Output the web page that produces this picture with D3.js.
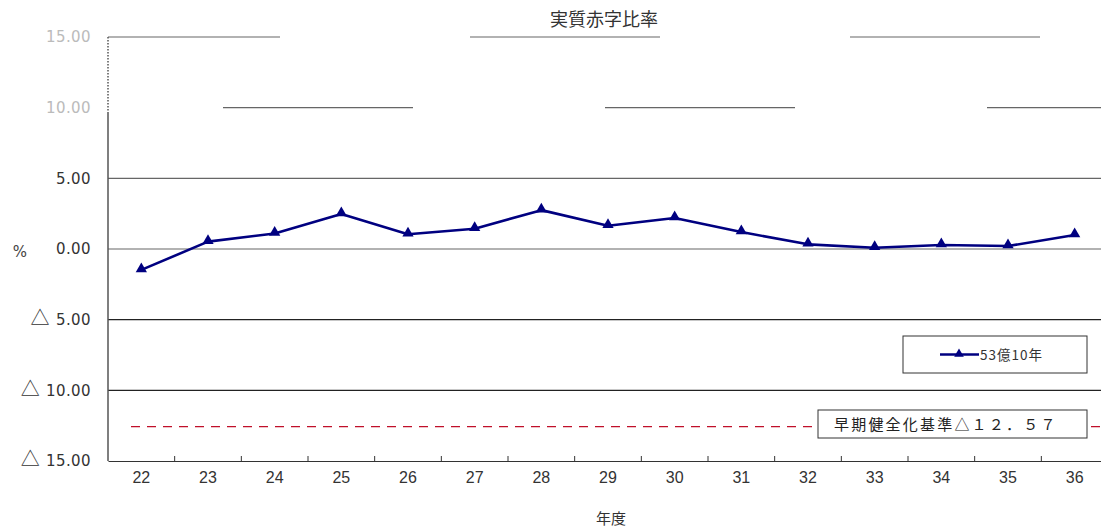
<!DOCTYPE html>
<html>
<head>
<meta charset="utf-8">
<script src="https://cdn.jsdelivr.net/npm/d3@7"></script>
<style>
  html, body { margin: 0; padding: 0; background: #fff; }
  svg { display: block; font-family: "Noto Sans CJK JP", "DejaVu Sans", sans-serif; }
</style>
</head>
<body>
<svg id="chart" width="1101" height="529"></svg>
<script>
// 年度 (fiscal years)
const years = ["22","23","24","25","26","27","28","29","30","31","32","33","34","35","36"];
// 実質赤字比率 (%) per year
const ratio = [-1.48, 0.52, 1.1, 2.47, 1.04, 1.43, 2.75, 1.65, 2.19, 1.2, 0.33, 0.09, 0.28, 0.21, 0.99];
// y-axis ticks
const yTicks = [15, 10, 5, 0, -5, -10, -15];
// early-warning threshold
const threshold = -12.57;
const seriesName = "53億10年";
const thresholdLabel = "早期健全化基準△１２．５７";

const CJK = "'Noto Sans CJK JP', sans-serif";
const LATIN = "'DejaVu Sans', sans-serif";

const svg = d3.select("#chart");
const plotLeft = 108, plotRight = 1108, plotTop = 37, plotBottom = 461;

const x = d3.scaleBand().domain(years).range([plotLeft, plotRight]);
const y = d3.scaleLinear().domain([-15, 15]).range([plotBottom, plotTop]);

const num = d3.format(".2f");

// title
svg.append("text")
  .attr("x", 604).attr("y", 26)
  .attr("text-anchor", "middle")
  .style("font-family", CJK)
  .attr("font-size", 18).attr("fill", "#333")
  .text("実質赤字比率");

// gridlines
const grid = svg.append("g");
yTicks.filter(v => v > -15).forEach(v => {
  const line = grid.append("line")
    .attr("x1", plotLeft).attr("x2", plotRight)
    .attr("y1", y(v)).attr("y2", y(v))
    .attr("stroke", v >= 0 ? "#666" : "#222")
    .attr("stroke-width", 1.2);
  if (v === 15) line.attr("stroke-dasharray", "172 190 190 190 190 190 190");
  if (v === 10) line.attr("stroke-dasharray", "0 115 190 192 190 192 190 192 190");
});

// y-axis labels; negatives carry a △ prefix
const yAxis = d3.axisLeft(y).tickValues(yTicks).tickFormat(v => num(Math.abs(v))).tickSize(0).tickPadding(17);
const gy = svg.append("g").attr("transform", `translate(${plotLeft},0)`).call(yAxis);
gy.select(".domain").remove();
gy.selectAll("text")
  .style("font-family", LATIN)
  .style("font-size", "15px")
  .attr("letter-spacing", 0.4)
  .attr("fill", d => d >= 10 ? "#bbb" : "#333")
  .each(function(d) {
    if (d < 0) {
      const t = d3.select(this);
      const label = t.text();
      t.text(null);
      t.append("tspan").style("font-family", CJK).style("font-size", "19px").text("△");
      t.append("tspan").attr("dx", 6).text(label);
    }
  });

// left axis line: dotted at the top, solid below
svg.append("line")
  .attr("x1", plotLeft).attr("x2", plotLeft).attr("y1", plotTop).attr("y2", 113)
  .attr("stroke", "#555").attr("stroke-width", 1.5).attr("stroke-dasharray", "1.5 1.5");
svg.append("line")
  .attr("x1", plotLeft).attr("x2", plotLeft).attr("y1", 113).attr("y2", plotBottom)
  .attr("stroke", "#555").attr("stroke-width", 1.5);

// bottom axis
const xAxis = d3.axisBottom(x).tickSize(0).tickPadding(11);
const gx = svg.append("g").attr("transform", `translate(0,${plotBottom})`).call(xAxis);
gx.select(".domain").attr("stroke", "#333").attr("stroke-width", 1.2);
gx.selectAll("text")
  .style("font-family", "'Liberation Sans', Arial, sans-serif")
  .style("font-size", "16px")
  .attr("fill", "#333");

// tick marks between categories, pointing up into the plot
svg.append("g").selectAll("line")
  .data(years.slice(1))
  .join("line")
  .attr("x1", d => x(d)).attr("x2", d => x(d))
  .attr("y1", plotBottom).attr("y2", plotBottom - 5)
  .attr("stroke", "#333");

// axis titles
svg.append("text").attr("x", 20).attr("y", 257)
  .attr("text-anchor", "middle").style("font-family", LATIN).attr("font-size", 15).attr("fill", "#444").text("%");
svg.append("text").attr("x", 611).attr("y", 524)
  .attr("text-anchor", "middle").style("font-family", CJK).attr("font-size", 15).attr("fill", "#333").text("年度");

// threshold line
svg.append("line")
  .attr("x1", 131).attr("x2", plotRight)
  .attr("y1", y(threshold)).attr("y2", y(threshold))
  .attr("stroke", "#c0102a").attr("stroke-width", 1.3)
  .attr("stroke-dasharray", "9 7");

// threshold label box
svg.append("rect")
  .attr("x", 818).attr("y", 410).attr("width", 269).attr("height", 28)
  .attr("fill", "#fff").attr("stroke", "#333").attr("stroke-width", 1);
svg.append("text")
  .attr("x", 834).attr("y", 430)
  .style("font-family", CJK)
  .attr("font-size", 15).attr("letter-spacing", 2.2).attr("fill", "#222")
  .text(thresholdLabel);

// series line
const cx = d => x(d) + x.bandwidth() / 2;
const data = years.map((d, i) => ({ year: d, value: ratio[i] }));
svg.append("path")
  .datum(data)
  .attr("fill", "none")
  .attr("stroke", "#000080")
  .attr("stroke-width", 2.6)
  .attr("stroke-linejoin", "round")
  .attr("d", d3.line().x(d => cx(d.year)).y(d => y(d.value)));

const tri = d3.symbol().type(d3.symbolTriangle).size(55);
svg.append("g").selectAll("path")
  .data(data)
  .join("path")
  .attr("transform", d => `translate(${cx(d.year)},${y(d.value) - 1})`)
  .attr("d", tri)
  .attr("fill", "#000080");

// legend
svg.append("rect")
  .attr("x", 903).attr("y", 336).attr("width", 184).attr("height", 37)
  .attr("fill", "#fff").attr("stroke", "#333").attr("stroke-width", 1);
svg.append("line")
  .attr("x1", 940).attr("x2", 979).attr("y1", 354.5).attr("y2", 354.5)
  .attr("stroke", "#000080").attr("stroke-width", 2.4);
svg.append("path")
  .attr("transform", "translate(959,354)")
  .attr("d", d3.symbol().type(d3.symbolTriangle).size(40))
  .attr("fill", "#000080");
svg.append("text")
  .attr("x", 980).attr("y", 359.5)
  .style("font-family", CJK)
  .attr("font-size", 13.5).attr("letter-spacing", 1).attr("fill", "#333")
  .text(seriesName);
</script>
</body>
</html>
